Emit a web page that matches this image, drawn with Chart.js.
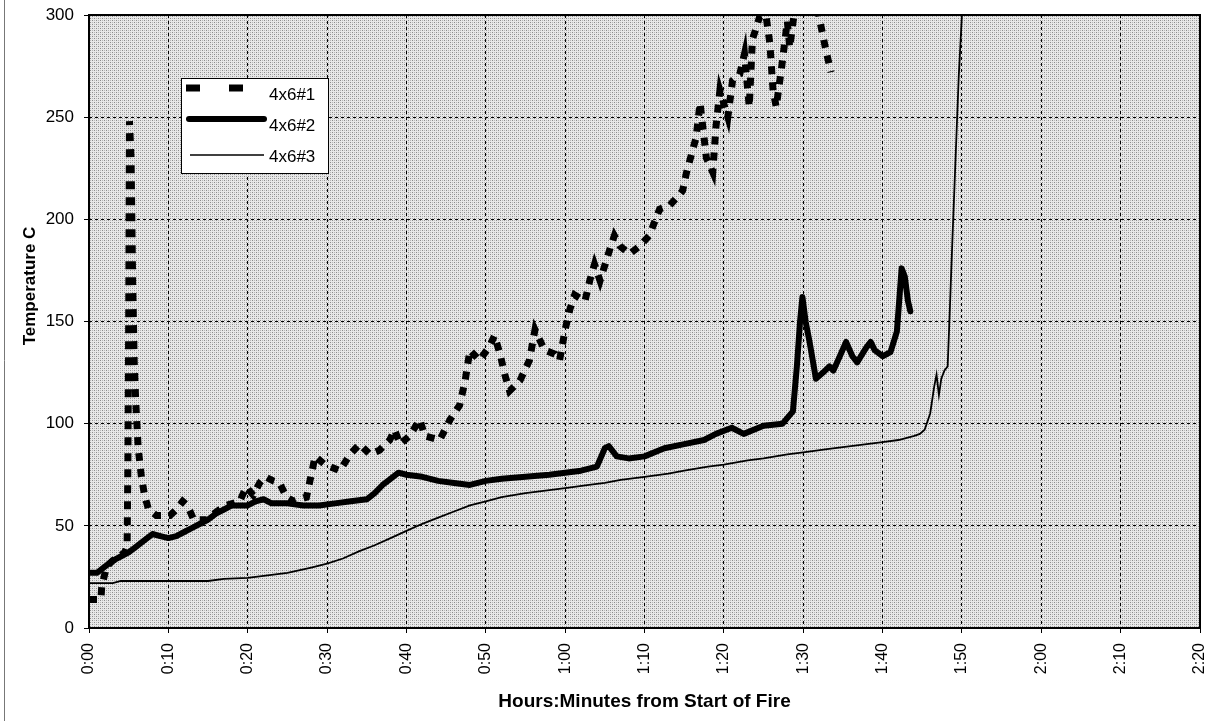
<!DOCTYPE html>
<html>
<head>
<meta charset="utf-8">
<script src="https://cdn.jsdelivr.net/npm/chart.js@4.4.1/dist/chart.umd.min.js"></script>
<style>
  html, body { margin: 0; padding: 0; background: #fff; }
  #wrap { width: 1215px; height: 721px; }
</style>
</head>
<body>
<div id="wrap"><canvas id="grafico" width="1215" height="721"></canvas></div>
<script>
// tiempo en minutos desde el inicio del fuego, temperatura en C
const nombres = ["4x6#1", "4x6#2", "4x6#3"];
const etiquetasX = ["0:00","0:10","0:20","0:30","0:40","0:50","1:00","1:10","1:20","1:30","1:40","1:50","2:00","2:10","2:20"];

const min1 = [0, 1.5, 1.6, 2.2, 3.0, 3.8, 4.5, 4.8, 4.9, 5.0, 5.05, 5.1, 5.3, 5.5, 5.7, 5.9, 6.2, 6.6, 7.0, 7.5, 8.5, 10.2, 11.0, 11.8, 12.4, 13.2, 14.8, 16.1, 17.3, 19.0, 19.8, 20.7, 21.5, 22.2, 23.2, 24.0, 24.9, 25.8, 27.4, 28.5, 29.7, 31.6, 32.9, 34.1, 35.4, 36.6, 37.9, 38.5, 39.2, 40.4, 41.7, 42.3, 44.2, 45.5, 46.7, 47.4, 48.0, 49.2, 50.5, 51.1, 51.8, 52.4, 53.0, 54.3, 55.5, 56.2, 57.4, 58.7, 59.3, 60.0, 60.6, 61.2, 62.5, 63.1, 63.7, 64.4, 65.6, 66.2, 66.9, 68.1, 69.4, 70.6, 71.9, 73.2, 74.4, 74.8, 75.3, 76.5, 77.0, 77.8, 78.6, 79.0, 79.5, 80.5, 81.1, 82.0, 82.6, 83.2, 83.6, 84.5, 85.3, 85.8, 86.2, 86.6, 87.3, 88.0, 88.3, 89.5, 91.0, 92.0, 92.9, 93.5];
const temp1 = [14, 14, 20, 30, 33, 35, 37, 40, 80, 150, 200, 248, 230, 170, 130, 110, 88, 74, 65, 58, 55, 55, 58, 62, 60, 53, 53, 57, 60, 62, 69, 65, 71, 74, 72, 71, 64, 62, 64, 84, 80, 77, 85, 90, 85, 87, 92, 97, 90, 94, 102, 94, 92, 102, 109, 121, 136, 131, 138, 143, 134, 124, 116, 121, 131, 146, 136, 134, 131, 146, 156, 163, 160, 170, 178, 170, 185, 192, 187, 183, 187, 192, 205, 207, 212, 214, 223, 240, 257, 230, 223, 245, 263, 250, 268, 271, 281, 255, 288, 299, 300, 286, 263, 255, 275, 297, 284, 320, 318, 299, 282, 272];

const min2 = [0, 1, 2, 3, 4, 5, 6, 7, 8, 9, 10, 11, 12, 13, 14, 15, 16, 17, 18, 19, 20, 21, 22, 23, 25, 27, 29, 31, 33, 35, 36, 37, 38, 39, 40, 42, 44, 46, 48, 50, 52, 55, 58, 60, 62, 64, 65, 65.5, 66.5, 68, 70, 72.5, 75, 77.5, 79, 81, 82.5, 85, 87.4, 88.7, 89.2, 89.6, 89.9, 90.3, 90.8, 91.6, 92.5, 93.3, 93.8, 94.5, 95.4, 96.2, 96.8, 97.9, 98.5, 99, 100, 101, 101.8, 102.4, 102.8, 103.2, 103.5];
const temp2 = [27, 27, 30, 33, 35, 37, 40, 43, 46, 45, 44, 45, 47, 49, 51, 53, 56, 58, 60, 60, 60, 62, 63, 61, 61, 60, 60, 61, 62, 63, 66, 70, 73, 76, 75, 74, 72, 71, 70, 72, 73, 74, 75, 76, 77, 79, 88, 89, 84, 83, 84, 88, 90, 92, 95, 98, 95, 99, 100, 106, 128, 150, 162, 150, 140, 122, 125, 128, 126, 132, 140, 133, 130, 137, 140, 136, 133, 135, 145, 176, 172, 160, 155];

const min3 = [0, 3, 4, 15, 17, 20, 22, 25, 28, 30, 32, 34, 36, 38, 40, 42, 44, 46, 48, 50, 52, 55, 58, 60, 63, 65, 67, 70, 73, 75, 78, 80, 83, 85, 88, 90, 93, 95, 98, 100, 102, 104, 104.7, 105.3, 106, 106.5, 106.8, 107.1, 107.4, 107.8, 108.2, 108.4, 108.8, 109.2, 109.6, 110];
const temp3 = [22, 22, 23, 23, 24, 24.5, 25.5, 27, 29.5, 31.5, 34, 37.5, 40.5, 44, 47.5, 51, 54, 57, 60, 62, 64, 66, 67.5, 68.5, 70, 71, 72.5, 74, 75.5, 77, 79, 80, 82, 83, 85, 86, 87.5, 88.5, 90, 91, 92, 94, 95, 97, 105, 118, 124, 114, 122, 126, 128, 148, 190, 230, 270, 300];

const puntos = (xs, ys) => xs.map((x, i) => ({ x: x, y: ys[i] }));

// trama gris del area de trazado
const trama = (() => {
    const c = document.createElement("canvas");
    c.width = 4; c.height = 4;
    const p = c.getContext("2d");
    p.fillStyle = "#e8e8e8"; p.fillRect(0, 0, 4, 4);
    p.fillStyle = "#8c8c8c"; p.fillRect(0, 0, 1, 1); p.fillRect(2, 2, 1, 1);
    p.fillStyle = "#b8b8b8"; p.fillRect(2, 0, 1, 1); p.fillRect(0, 2, 1, 1);
    return c;
})();

const fondo = {
    id: "fondo",
    beforeDraw(chart) {
        const { ctx, chartArea: a } = chart;
        ctx.save();
        ctx.fillStyle = "#fff";
        ctx.fillRect(0, 0, chart.width, chart.height);
        ctx.fillStyle = ctx.createPattern(trama, "repeat");
        ctx.fillRect(a.left, a.top, a.right - a.left, a.bottom - a.top);
        // borde exterior del grafico
        ctx.strokeStyle = "#777";
        ctx.lineWidth = 1;
        ctx.beginPath(); ctx.moveTo(4.5, 0); ctx.lineTo(4.5, chart.height); ctx.stroke();
        ctx.restore();
    },
    afterDatasetsDraw(chart) {
        const { ctx, chartArea: a } = chart;
        ctx.save();
        ctx.strokeStyle = "#000";
        ctx.lineWidth = 2;
        ctx.strokeRect(a.left, a.top, a.right - a.left, a.bottom - a.top);

        // leyenda
        ctx.fillStyle = "#fff";
        ctx.fillRect(181, 78, 147, 95);
        ctx.lineWidth = 1;
        ctx.strokeRect(181.5, 78.5, 147, 95);
        ctx.strokeStyle = "#000";
        ctx.lineWidth = 7;
        ctx.setLineDash([14, 29]);
        ctx.beginPath(); ctx.moveTo(186, 88); ctx.lineTo(243, 88); ctx.stroke();
        ctx.setLineDash([]);
        ctx.lineCap = "round";
        ctx.lineWidth = 6;
        ctx.beginPath(); ctx.moveTo(189, 119); ctx.lineTo(264, 119); ctx.stroke();
        ctx.lineCap = "butt";
        ctx.lineWidth = 1.5;
        ctx.beginPath(); ctx.moveTo(190, 155); ctx.lineTo(264, 155); ctx.stroke();
        ctx.fillStyle = "#000";
        ctx.font = "17px Arial, 'Liberation Sans', sans-serif";
        ctx.textBaseline = "middle";
        ctx.fillText(nombres[0], 269, 95);
        ctx.fillText(nombres[1], 269, 126);
        ctx.fillText(nombres[2], 269, 157);

        // titulos de ejes
        ctx.textAlign = "center";
        ctx.font = "bold 19px 'Liberation Sans Narrow', 'Arial Narrow', Arial, sans-serif";
        ctx.fillText("Hours:Minutes from Start of Fire", (a.left + a.right) / 2, 702);
        ctx.font = "bold 17px 'Liberation Sans Narrow', 'Arial Narrow', Arial, sans-serif";
        ctx.translate(30, 286);
        ctx.rotate(-Math.PI / 2);
        ctx.fillText("Temperature C", 0, 0);
        ctx.restore();
    }
};

const ctx = document.querySelector("#grafico").getContext("2d");

const grafico = new Chart(ctx, {
    type: "line",
    data: {
        datasets: [
            { label: nombres[0], data: puntos(min1, temp1), borderColor: "#000", borderWidth: 7, borderDash: [8, 8], borderCapStyle: "butt" },
            { label: nombres[1], data: puntos(min2, temp2), borderColor: "#000", borderWidth: 6, borderJoinStyle: "round", borderCapStyle: "round" },
            { label: nombres[2], data: puntos(min3, temp3), borderColor: "#000", borderWidth: 1.8 }
        ]
    },
    options: {
        responsive: false,
        animation: false,
        parsing: false,
        elements: { point: { radius: 0 }, line: { tension: 0 } },
        layout: { padding: { left: 0, top: 15, right: 15, bottom: 0 } },
        plugins: { legend: { display: false }, tooltip: { enabled: false } },
        scales: {
            x: {
                type: "linear",
                min: 0, max: 140,
                afterFit: s => { s.height = 93; s.paddingLeft = 0; s.paddingRight = 0; },
                grid: { color: "#000", lineWidth: 1, tickLength: 5, tickColor: "#000", tickBorderDash: [] },
                border: { display: false, dash: [3, 3] },
                ticks: {
                    stepSize: 10, minRotation: 90, maxRotation: 90, padding: 10,
                    color: "#000", font: { family: "Arial, 'Liberation Sans', sans-serif", size: 16 },
                    callback: (v, i) => etiquetasX[i]
                }
            },
            y: {
                min: 0, max: 300,
                afterFit: s => { s.width = 89; s.paddingTop = 0; s.paddingBottom = 0; },
                grid: { color: "#000", lineWidth: 1, tickLength: 5, tickColor: "#000", tickBorderDash: [] },
                border: { display: false, dash: [3, 3] },
                ticks: {
                    stepSize: 50, padding: 10, color: "#000",
                    font: { family: "Arial, 'Liberation Sans', sans-serif", size: 17 }
                }
            }
        }
    },
    plugins: [fondo]
});
</script>
</body>
</html>
